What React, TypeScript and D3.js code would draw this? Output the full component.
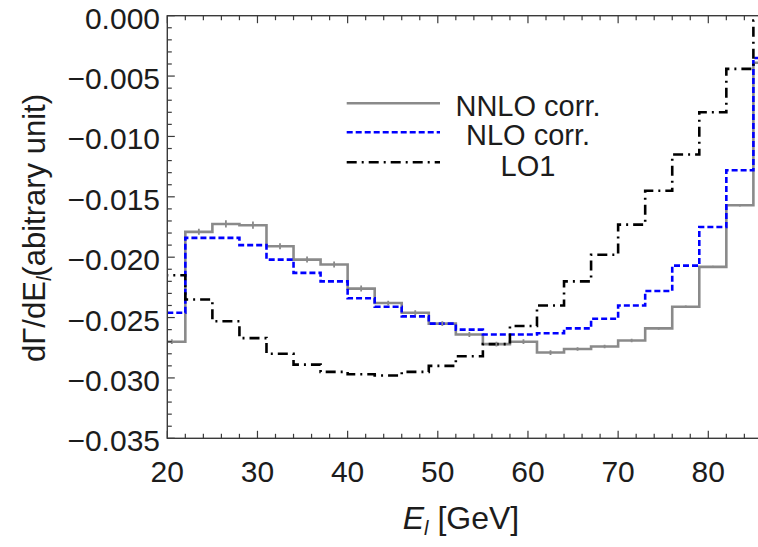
import React from "react";
import * as d3 from "d3";

// Lepton-energy bins: lower edges in GeV, each bin 3 GeV wide
const binStarts = [19, 22, 25, 28, 31, 34, 37, 40, 43, 46, 49, 52, 55, 58, 61, 64, 67, 70, 73, 76, 79, 82, 85];
const binWidth = 3;

// dΓ/dE_l per bin (arbitrary units)
const nnloCorr = [-0.0270, -0.0179, -0.01725, -0.01735, -0.0191, -0.0202, -0.0206, -0.0226, -0.0238, -0.0246, -0.0255, -0.0264, -0.0272, -0.0270, -0.0279, -0.0276, -0.0274, -0.0269, -0.0259, -0.0241, -0.0208, -0.0157, -0.0039];
const nnloErr = [0.0002, 0.00025, 0.0003, 0.0003, 0.00025, 0.00025, 0.00025, 0.00025, 0.0002, 0.0002, 0.0002, 0.0002, 0.0002, 0.0002, 0.0002, 0.00015, 0.00015, 0.00015, 0.00012, 0.0001, 0.0001, 0.0001, 0];
const nloCorr = [-0.0246, -0.0184, -0.0184, -0.0190, -0.0202, -0.0213, -0.0220, -0.0234, -0.0241, -0.0249, -0.0255, -0.0260, -0.0264, -0.0264, -0.0263, -0.0259, -0.0251, -0.0240, -0.0228, -0.0207, -0.0175, -0.0128, -0.0035];
const lo1 = [-0.0215, -0.0235, -0.0253, -0.0267, -0.0280, -0.0289, -0.0295, -0.0297, -0.0298, -0.0295, -0.0290, -0.0282, -0.0272, -0.0257, -0.0240, -0.0220, -0.0198, -0.0173, -0.0145, -0.0115, -0.0080, -0.0044, -0.0004];

const xTickValues = [20, 30, 40, 50, 60, 70, 80];
const yTickValues = [0, -0.005, -0.01, -0.015, -0.02, -0.025, -0.03, -0.035];

const seriesNames = ["NNLO corr.", "NLO corr.", "LO1"];

const W = 758;
const H = 547;
const FONT = "'Liberation Sans', Arial, sans-serif";
const TXT = "#1c1c1c";
const AX = "#3a3a3a";

const x = d3.scaleLinear().domain([20, 86]).range([167.3, 762.4]);
const y = d3.scaleLinear().domain([-0.035, 0]).range([438.3, 15.7]);

const stepLine = d3
  .line<[number, number]>()
  .x((d) => x(d[0]))
  .y((d) => y(d[1]))
  .curve(d3.curveStepAfter);

function stepPath(values: number[]) {
  const pts: [number, number][] = values.map((v, i) => [binStarts[i], v]);
  const last = values.length - 1;
  pts.push([binStarts[last] + binWidth, values[last]]);
  return stepLine(pts) || "";
}

const styles = [
  { stroke: "#8a8a8a", width: 2.6, dash: "none" },
  { stroke: "#0000ff", width: 2.6, dash: "6,3" },
  { stroke: "#000000", width: 2.6, dash: "10,5,2,5" },
];

const legendLineY = [103.3, 132.3, 162.3];
const legendTextY = [116.3, 145.3, 176];

export default function App() {
  const [x0, x1] = x.range();
  const [yb, yt] = y.range();
  const xMinor = d3.range(20, 87, 2);
  const yMinor = d3.range(0, 36).map((k) => -k * 0.001);
  const fmt = d3.format(".3f");
  const series = [nnloCorr, nloCorr, lo1];

  return (
    <svg
      width={W}
      height={H}
      style={{ position: "absolute", left: 0, top: 0, background: "#fff" }}
      fontFamily={FONT}
    >
      <defs>
        <clipPath id="plotArea">
          <rect x={x0} y={yt} width={x1 - x0} height={yb - yt} />
        </clipPath>
      </defs>

      {/* histogram step lines */}
      <g clipPath="url(#plotArea)" fill="none">
        {series.map((vals, i) => (
          <path
            key={i}
            d={stepPath(vals)}
            stroke={styles[i].stroke}
            strokeWidth={styles[i].width}
            strokeDasharray={styles[i].dash}
          />
        ))}
        {/* NNLO error bars at bin centres */}
        {nnloCorr.map((v, i) =>
          nnloErr[i] > 0 ? (
            <line
              key={i}
              x1={x(binStarts[i] + binWidth / 2)}
              x2={x(binStarts[i] + binWidth / 2)}
              y1={y(v - nnloErr[i])}
              y2={y(v + nnloErr[i])}
              stroke="#8a8a8a"
              strokeWidth={1.8}
            />
          ) : null
        )}
      </g>

      {/* frame */}
      <rect x={x0} y={yt} width={x1 - x0} height={yb - yt} fill="none" stroke={AX} strokeWidth={1.4} />

      {/* ticks: bottom and top x, left y, pointing inwards */}
      <g stroke={AX} strokeWidth={1.2}>
        {xMinor.map((v) => {
          const major = v % 10 === 0;
          const len = major ? 7.5 : 4.5;
          return (
            <g key={v}>
              <line x1={x(v)} x2={x(v)} y1={yb} y2={yb - len} />
              <line x1={x(v)} x2={x(v)} y1={yt} y2={yt + len} />
            </g>
          );
        })}
        {yMinor.map((v, k) => {
          const major = k % 5 === 0;
          const len = major ? 7.5 : 4.5;
          return <line key={k} x1={x0} x2={x0 + len} y1={y(v)} y2={y(v)} />;
        })}
      </g>

      {/* tick labels */}
      <g fill={TXT} fontSize={30}>
        {xTickValues.map((v) => (
          <text key={v} x={x(v)} y={482} textAnchor="middle">
            {v}
          </text>
        ))}
        {yTickValues.map((v) => (
          <text key={v} x={160} y={y(v) + 13} textAnchor="end">
            {fmt(v)}
          </text>
        ))}
      </g>

      {/* axis titles */}
      <text x={461} y={529} textAnchor="middle" fontSize={32} fill={TXT}>
        <tspan fontStyle="italic">E</tspan>
        <tspan fontStyle="italic" fontSize={20} dy={6}>l</tspan>
        <tspan dy={-6}>{" [GeV]"}</tspan>
      </text>
      <text transform="rotate(-90)" x={-228} y={45} textAnchor="middle" fontSize={31} fill={TXT}>
        <tspan>dΓ/dE</tspan>
        <tspan fontStyle="italic" fontSize={20} dy={6}>l</tspan>
        <tspan dy={-6}>(abitrary unit)</tspan>
      </text>

      {/* legend */}
      <g>
        {seriesNames.map((name, i) => (
          <g key={name}>
            <line
              x1={346.7}
              x2={440}
              y1={legendLineY[i]}
              y2={legendLineY[i]}
              stroke={styles[i].stroke}
              strokeWidth={styles[i].width}
              strokeDasharray={styles[i].dash}
            />
            <text x={528} y={legendTextY[i]} textAnchor="middle" fontSize={29} fill={TXT}>
              {name}
            </text>
          </g>
        ))}
      </g>
    </svg>
  );
}
